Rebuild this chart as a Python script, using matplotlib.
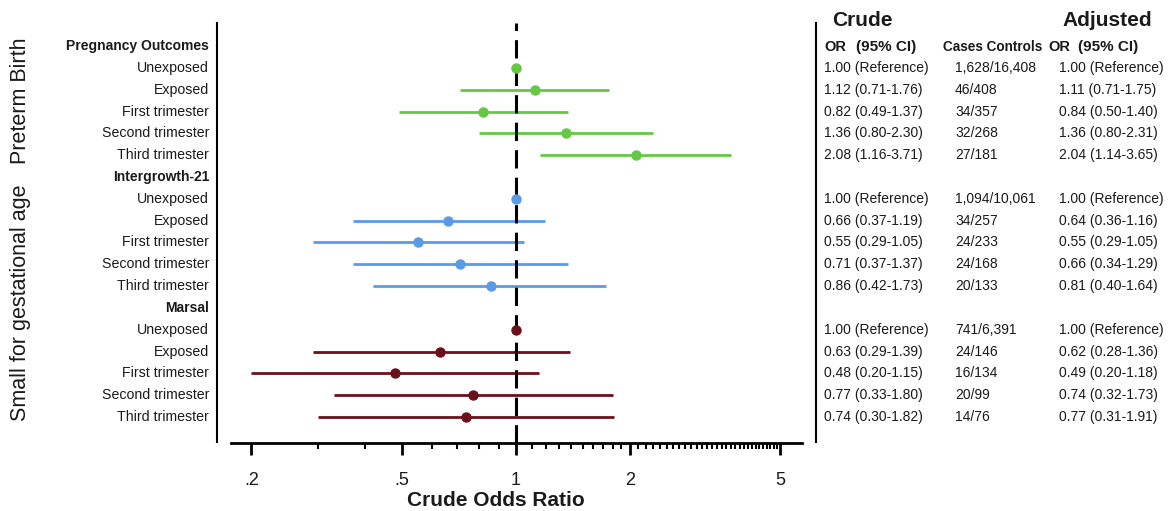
import numpy as np
import matplotlib
matplotlib.use("Agg")
import matplotlib.pyplot as plt
from matplotlib.lines import Line2D
from matplotlib.transforms import blended_transform_factory

plt.rcParams['font.family'] = ['Liberation Sans', 'DejaVu Sans']

W, H = 1168, 511

# data
groups = ["Pregnancy Outcomes", "Intergrowth-21", "Marsal"]
rows = ["Unexposed", "Exposed", "First trimester", "Second trimester", "Third trimester"]
colors = ["#66c744", "#5a9be8", "#6b0f1a"]

# crude odds ratios (plotted)
crude_or = [[1.00, 1.12, 0.82, 1.36, 2.08],
            [1.00, 0.66, 0.55, 0.71, 0.86],
            [1.00, 0.63, 0.48, 0.77, 0.74]]
crude_lo = [[1.00, 0.71, 0.49, 0.80, 1.16],
            [1.00, 0.37, 0.29, 0.37, 0.42],
            [1.00, 0.29, 0.20, 0.33, 0.30]]
crude_hi = [[1.00, 1.76, 1.37, 2.30, 3.71],
            [1.00, 1.19, 1.05, 1.37, 1.73],
            [1.00, 1.39, 1.15, 1.80, 1.82]]

cases = [["1,628/16,408", "46/408", "34/357", "32/268", "27/181"],
         ["1,094/10,061", "34/257", "24/233", "24/168", "20/133"],
         ["741/6,391", "24/146", "16/134", "20/99", "14/76"]]

adj_or = [[1.00, 1.11, 0.84, 1.36, 2.04],
          [1.00, 0.64, 0.55, 0.66, 0.81],
          [1.00, 0.62, 0.49, 0.74, 0.77]]
adj_lo = [[1.00, 0.71, 0.50, 0.80, 1.14],
          [1.00, 0.36, 0.29, 0.34, 0.40],
          [1.00, 0.28, 0.20, 0.32, 0.31]]
adj_hi = [[1.00, 1.75, 1.40, 2.31, 3.65],
          [1.00, 1.16, 1.05, 1.29, 1.64],
          [1.00, 1.36, 1.18, 1.73, 1.91]]

major_ticks = [0.2, 0.5, 1, 2, 5]
major_labels = [".2", ".5", "1", "2", "5"]


def fmt(o, l, h):
    if o == 1.0 and l == 1.0 and h == 1.0:
        return "1.00 (Reference)"
    return "{:.2f} ({:.2f}-{:.2f})".format(o, l, h)


fig = plt.figure(figsize=(W / 100, H / 100), dpi=100)
ax = fig.add_axes([231 / W, 1 - 443 / H, (802 - 231) / W, (443 - 22.7) / H])
ax.set_xscale("log")
ax.set_xlim(0.1766, 5.70)
ax.set_ylim(18.19, -1.07)

tc = "#1a1a1a"
trans = blended_transform_factory(fig.transFigure, ax.transData)

for g in range(3):
    y0 = g * 6
    ax.text(209 / W, y0, groups[g], transform=trans, ha="right", va="center",
            fontsize=10, fontweight="bold", color=tc)
    for i in range(5):
        y = y0 + 1 + i
        ax.text(209 / W, y, rows[i], transform=trans, ha="right", va="center",
                fontsize=10.2, color=tc)
        o, l, h = crude_or[g][i], crude_lo[g][i], crude_hi[g][i]
        if l != h:
            ax.hlines(y, l, h, color=colors[g], lw=2.0, zorder=2)
        ax.plot(o, y, "o", color=colors[g], markersize=6.5, zorder=4)
        ax.text(824 / W, y, fmt(o, l, h), transform=trans, ha="left",
                va="center", fontsize=10, color=tc)
        ax.text(955 / W, y, cases[g][i], transform=trans, ha="left",
                va="center", fontsize=10, color=tc)
        ax.text(1059 / W, y, fmt(adj_or[g][i], adj_lo[g][i], adj_hi[g][i]),
                transform=trans, ha="left", va="center", fontsize=10, color=tc)

# table headers
hb = 0.24
for xo, xc in ((824, 856), (1048, 1078)):
    ax.text(xo / W, hb, "OR", transform=trans, ha="left", va="baseline",
            fontsize=10.5, fontweight="bold", color=tc)
    ax.text(xc / W, hb, "(95% CI)", transform=trans, ha="left",
            va="baseline", fontsize=11, fontweight="bold", color=tc)
ax.text(943 / W, hb, "Cases Controls", transform=trans, ha="left",
        va="baseline", fontsize=9.8, fontweight="bold", color=tc)
fig.text(832 / W, 1 - 21 / H, "Crude", ha="left", va="center", fontsize=15,
         fontweight="bold", color=tc)
fig.text(1062 / W, 1 - 21 / H, "Adjusted", ha="left", va="center", fontsize=15,
         fontweight="bold", color=tc)

# outcome labels
fig.text(21 / W, 1 - 101 / H, "Preterm Birth", rotation=90, ha="center",
         va="center", fontsize=15.5, color=tc)
fig.text(21 / W, 1 - 303 / H, "Small for gestational age", rotation=90,
         ha="center", va="center", fontsize=15.5, color=tc)

# reference line
ax.axvline(1, color="black", lw=2.2, dashes=(6, 3), zorder=3)

# axis styling
for s in ["top", "right", "left"]:
    ax.spines[s].set_visible(False)
ax.spines["bottom"].set_linewidth(2)
ax.set_yticks([])
ax.set_xticks(major_ticks)
ax.set_xticklabels(major_labels)
minor = list(np.round(np.arange(0.3, 1.0, 0.1), 2)) + \
    list(np.round(np.arange(1.1, 2.0, 0.1), 2)) + \
    list(np.round(np.arange(2.1, 4.95, 0.1), 2))
minor = [m for m in minor if m not in (0.5,)]
ax.set_xticks(minor, minor=True)
ax.xaxis.set_minor_formatter(plt.NullFormatter())
ax.tick_params(axis="x", which="major", length=8.6, width=2, labelsize=13,
               pad=12, colors="black", labelcolor=tc)
ax.tick_params(axis="x", which="minor", length=4.3, width=1.5)

fig.text(496 / W, 1 - 500 / H, "Crude Odds Ratio", ha="center", va="center",
         fontsize=15, fontweight="bold", color=tc)

# separator lines
for xv in (216.7, 816):
    fig.add_artist(Line2D([xv / W, xv / W], [1 - 22.7 / H, 1 - 442 / H],
                          transform=fig.transFigure, color="black", lw=1.5))

fig.savefig("out.png", dpi=100)
